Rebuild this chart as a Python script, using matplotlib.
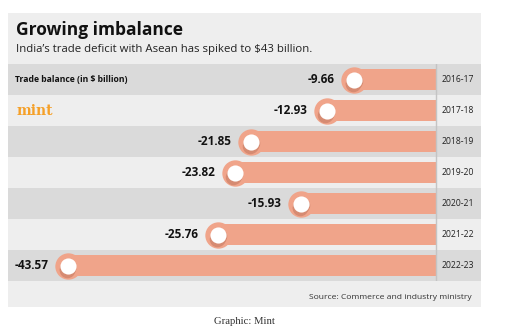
import matplotlib.pyplot as plt
import matplotlib.transforms as mtransforms
from matplotlib.patches import Rectangle

years = ['2016-17', '2017-18', '2018-19', '2019-20', '2020-21', '2021-22', '2022-23']
balance = [-9.66, -12.93, -21.85, -23.82, -15.93, -25.76, -43.57]

bar_col = '#f0a48a'
shadow_col = '#d68b72'
dark_band = '#dadada'
light_band = '#eeeeee'

W, H = 512, 329
fig = plt.figure(figsize=(W / 100, H / 100), dpi=100)
fig.patch.set_facecolor('white')

# background / frame in pixel coords
bg = fig.add_axes([0, 0, 1, 1])
bg.set_xlim(0, W)
bg.set_ylim(H, 0)
bg.axis('off')
bg.add_patch(Rectangle((8, 13), 473, 294, color=light_band, lw=0))

bg.text(16, 35, 'Growing imbalance', fontsize=12.5, fontweight='bold',
        family='Open Sans', color='#111111', va='baseline')
bg.text(16, 52, "India\u2019s trade deficit with Asean has spiked to $43 billion.",
        fontsize=8.2, family='Open Sans', color='#222222', va='baseline')
bg.text(472, 299, 'Source: Commerce and industry ministry', fontsize=6.1,
        family='Open Sans', color='#333333', ha='right', va='baseline')
bg.text(244, 324, 'Graphic: Mint', fontsize=7.7, family='Liberation Serif',
        color='#333333', ha='center', va='baseline')

# bar area: x from panel left (8px) to panel right (481px), rows 64..281px
left_px, right_px, zero_px = 8, 481, 435.7
top_px, bot_px = 64, 281
ax = fig.add_axes([left_px / W, 1 - bot_px / H, (right_px - left_px) / W, (bot_px - top_px) / H])
ppu = (zero_px - 68) / 43.57
ax.set_xlim(-(zero_px - left_px) / ppu, (right_px - zero_px) / ppu)
ax.set_ylim(len(years) - 0.5, -0.5)
ax.axis('off')

for i in range(len(years)):
    ax.axhspan(i - 0.5, i + 0.5, color=dark_band if i % 2 == 0 else light_band, lw=0, zorder=0)

ax.axvline(0, color='#c4c4c4', lw=1, zorder=5)

ypos = list(range(len(years)))
ax.barh(ypos, [-v for v in balance], left=balance, height=0.65, color=bar_col, lw=0, zorder=2)
ax.scatter(balance, ypos, s=360, color=bar_col, lw=0, zorder=3)

# soft shadow under the white knob
for k in range(1, 5):
    shift = mtransforms.offset_copy(ax.transData, fig=fig, x=-0.6 * k + 1, y=-1.2 * k, units='dots')
    ax.scatter(balance, ypos, s=125, color=shadow_col, lw=0, zorder=3.5, transform=shift)
ax.scatter(balance, ypos, s=135, color='white', lw=0, zorder=4)

for i, v in enumerate(balance):
    ax.annotate(f'{v:.2f}', (v, i), xytext=(-14, 0), textcoords='offset points',
                ha='right', va='center', fontsize=8.5, fontweight='bold',
                family='Open Sans', color='#111111', zorder=6)
    ax.annotate(years[i], (0, i), xytext=(4.3, 0), textcoords='offset points',
                ha='left', va='center', fontsize=6.2, family='Open Sans',
                color='#222222', zorder=6)

ax.text(0.014, 0, 'Trade balance (in $ billion)', transform=ax.get_yaxis_transform(),
        ha='left', va='center', fontsize=6.2, fontweight='bold', family='Open Sans',
        color='#111111', zorder=6)
ax.text(0.018, 1, 'mint', transform=ax.get_yaxis_transform(), ha='left', va='center',
        fontsize=10, fontweight='bold', family='DejaVu Serif', color='#f5a028', zorder=6)

fig.savefig('out.png', dpi=100)
